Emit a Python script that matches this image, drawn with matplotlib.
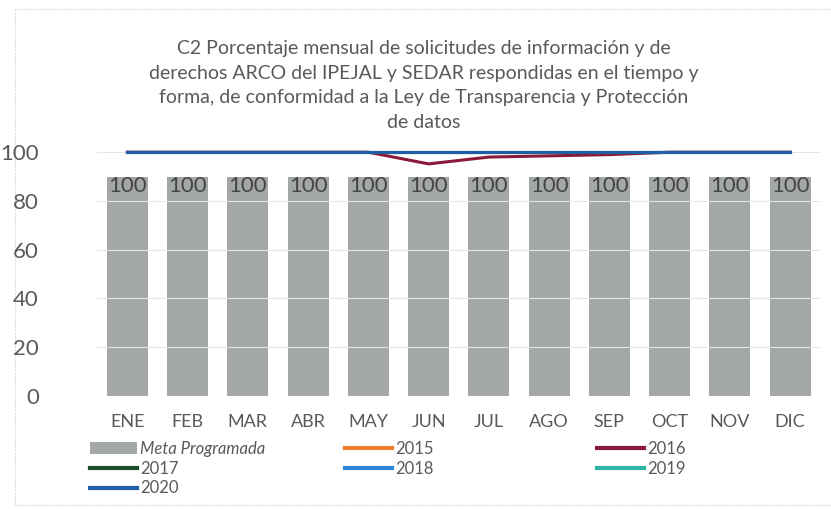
import numpy as np
import matplotlib
matplotlib.use("Agg")
import matplotlib.pyplot as plt
from matplotlib.patches import Patch, Rectangle
from matplotlib.lines import Line2D

meses = ["ENE", "FEB", "MAR", "ABR", "MAY", "JUN", "JUL", "AGO", "SEP", "OCT", "NOV", "DIC"]
meta = [100, 100, 100, 100, 100, 100, 100, 100, 100, 100, 100, 100]
y2015 = [100, 100, 100, 100, 100, 100, 100, 100, 100, 100, 100, 100]
y2016 = [100, 100, 100, 100, 100, 95.2, 98.0, 98.5, 99.0, 100, 100, 100]
y2017 = [100, 100, 100, 100, 100, 100, 100, 100, 100, 100, 100, 100]
y2018 = [100, 100, 100, 100, 100, 100, 100, 100, 100, 100, 100, 100]
y2019 = [100, 100, 100, 100, 100, 100, 100, 100, 100, 100, 100, 100]
y2020 = [100, 100, 100, 100, 100, 100, 100, 100, 100, 100, 100, 100]

titulo = ("C2 Porcentaje mensual de solicitudes de información y de\n"
          "derechos ARCO del IPEJAL y SEDAR respondidas en el tiempo y\n"
          "forma, de conformidad a la Ley de Transparencia y Protección\n"
          "de datos")

plt.rcParams['font.family'] = ['Lato', 'DejaVu Sans']
txt = "#595959"

fig = plt.figure(figsize=(8.31, 5.09), dpi=100)
# faint chart frame
fig.add_artist(Rectangle((15 / 831, 4 / 509), 1.0, 496 / 509, transform=fig.transFigure,
                         fill=False, ec="#dcdcdc", lw=0.8, ls=(0, (2, 1))))

ax = fig.add_axes([0.117, 0.222, 0.870, 0.479])
ax2 = ax.twinx()
x = np.arange(len(meses))

# bars sit on a secondary scale (as in the original spreadsheet chart)
bars = ax2.bar(x, meta, width=0.68, color="#a3a8a6", zorder=1)
ax2.set_ylim(0, 111.4)
ax2.axis("off")
for b, v in zip(bars, meta):
    ax2.text(b.get_x() + b.get_width() / 2, v - 4, str(v), ha="center", va="center",
             fontsize=16, color="#454545")

series = [("2015", y2015, "#ed7d31"), ("2016", y2016, "#8b1a3a"), ("2017", y2017, "#1e4d2b"),
          ("2018", y2018, "#2f86d6"), ("2019", y2019, "#2fb5a5"), ("2020", y2020, "#1f5fa8")]
for name, vals, col in series:
    ax.plot(x, vals, color=col, lw=2.2, clip_on=False, zorder=3)
ax.set_zorder(ax2.get_zorder() + 1)
ax.patch.set_visible(False)

ax.set_xlim(-0.5, len(meses) - 0.5)
ax.set_ylim(0, 100)
ax.set_yticks([0, 20, 40, 60, 80, 100])
ax.set_xticks(x)
ax.set_xticklabels(meses)
ax.tick_params(axis="x", length=0, labelsize=13, colors=txt, pad=13)
ax.tick_params(axis="y", length=0, labelsize=16, colors=txt, pad=42)
ax.grid(axis="y", color="#e6e6e6", lw=0.8)
ax.set_axisbelow(True)
for s in ax.spines.values():
    s.set_visible(False)

fig.text(0.51, 0.832, titulo, ha="center", va="center", fontsize=14, color=txt,
         linespacing=1.55)

h = {"Meta Programada": Patch(facecolor="#a3a8a6")}
for name, vals, col in series:
    h[name] = Line2D([0], [0], color=col, lw=3)
columnas = [(["Meta Programada", "2017", "2020"], 90),
            (["2015", "2018"], 345),
            (["2016", "2019"], 597)]
for labels, xpix in columnas:
    leg = fig.legend([h[k] for k in labels], labels, loc="upper left",
                     bbox_to_anchor=(xpix / 831, 1 - 441 / 509), frameon=False,
                     fontsize=12, handlelength=2.8, handletextpad=0.2,
                     labelspacing=0.22, borderaxespad=0, borderpad=0)
    for t in leg.get_texts():
        t.set_color(txt)
        if t.get_text() == "Meta Programada":
            t.set_fontstyle("italic")

fig.savefig("out.png", dpi=100)
